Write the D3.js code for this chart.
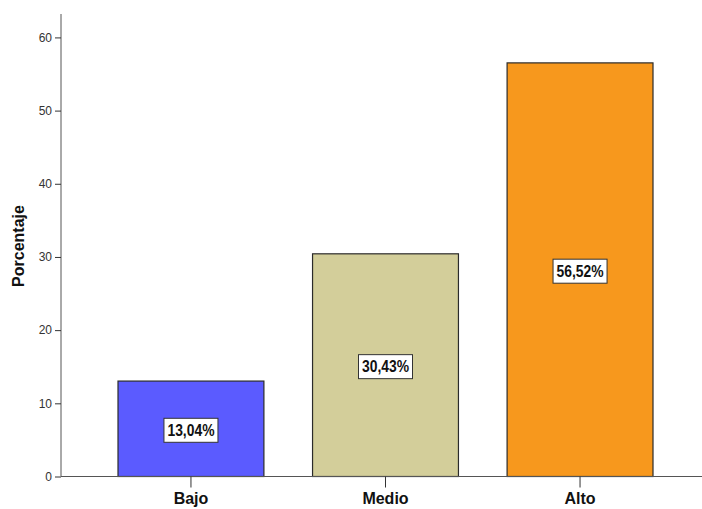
<!DOCTYPE html>
<html><head><meta charset="utf-8">
<script src="https://cdn.jsdelivr.net/npm/d3@7"></script>
<style>body{margin:0;background:#fff}</style>
</head><body>
<svg id="c" width="702" height="509"></svg>
<script>
const categories = ["Bajo", "Medio", "Alto"];
const values = [13.04, 30.43, 56.52];
const valueLabels = ["13,04%", "30,43%", "56,52%"];
const colors = ["#5B5BFF", "#D3CE9A", "#F7981D"];
const yTicks = [0, 10, 20, 30, 40, 50, 60];

const svg = d3.select("#c");
const x0 = 61, yBase = 476.5, yTop = 14;
const x = d3.scaleBand().domain(categories).range([x0, x0 + 649]).paddingInner(0.25).paddingOuter(0.293);
const y = d3.scaleLinear().domain([0, 63.2]).range([yBase, yTop]);

// bars
const g = svg.append("g");
g.selectAll("rect.bar").data(categories).join("rect")
  .attr("x", d => x(d)).attr("width", x.bandwidth())
  .attr("y", (d,i) => y(values[i])).attr("height", (d,i) => y(0) - y(values[i]))
  .attr("fill", (d,i) => colors[i]).attr("stroke", "#2b2b2b").attr("stroke-width", 1.2);

// y axis
const yAxis = svg.append("g").attr("transform", `translate(${x0},0)`)
  .call(d3.axisLeft(y).tickValues(yTicks).tickSize(6).tickPadding(3).tickFormat(d3.format("d")));
yAxis.select(".domain").attr("d", `M0,${yTop}V${yBase}`).attr("stroke", "#555");
yAxis.selectAll(".tick line").attr("stroke", "#333");
yAxis.selectAll("text").attr("font-family", "Liberation Sans, Arial, sans-serif").attr("font-size", 12).attr("fill", "#333");

// x axis baseline
const xAxis = svg.append("g").attr("transform", `translate(0,${yBase})`)
  .call(d3.axisBottom(x).tickSize(11).tickPadding(3));
xAxis.select(".domain").attr("d", `M${x0},0H702`).attr("stroke", "#555");
xAxis.selectAll(".tick line").attr("stroke", "#333");
xAxis.selectAll("text").attr("font-family", "Liberation Sans, Arial, sans-serif").attr("font-size", 16)
  .attr("font-weight", "bold").attr("fill", "#111").attr("dy", "0.85em");

// y title
svg.append("text").attr("transform", "translate(24,246) rotate(-90)").attr("text-anchor", "middle")
  .attr("font-family", "Liberation Sans, Arial, sans-serif").attr("font-size", 16).attr("font-weight", "bold")
  .attr("fill", "#111").text("Porcentaje");

// value labels
const lab = svg.append("g").selectAll("g").data(categories).join("g")
  .attr("transform", (d,i) => `translate(${x(d) + x.bandwidth()/2},${(y(values[i]) + y(0))/2 + 1.5})`);
lab.append("rect").attr("x", -27).attr("y", -12).attr("width", 54).attr("height", 24)
  .attr("fill", "#fff").attr("stroke", "#333").attr("stroke-width", 1);
lab.append("text").attr("text-anchor", "middle").attr("dy", "0.36em")
  .attr("font-family", "Liberation Sans Narrow, Arial Narrow, Liberation Sans, sans-serif")
  .attr("font-size", 16).attr("font-weight", "bold").attr("fill", "#111")
  .attr("textLength", 47).attr("lengthAdjust", "spacingAndGlyphs")
  .text((d,i) => valueLabels[i]);
</script>
</body></html>
